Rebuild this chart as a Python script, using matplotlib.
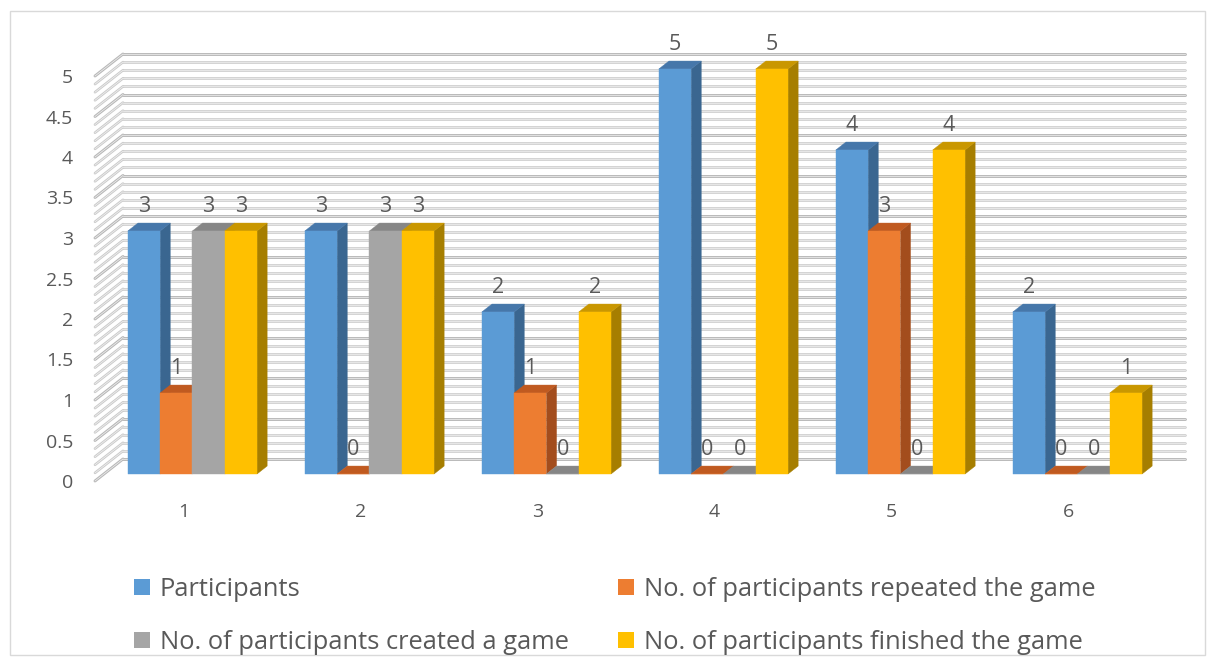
import matplotlib
matplotlib.use("Agg")
import matplotlib.pyplot as plt
from matplotlib.patches import Polygon, Patch, Rectangle
import numpy as np

# ---- data -------------------------------------------------------------
categories = ["1", "2", "3", "4", "5", "6"]
series_names = [
    "Participants",
    "No. of participants repeated the game",
    "No. of participants created a game",
    "No. of participants finished the game",
]
participants = [3, 3, 2, 5, 4, 2]
repeated = [1, 0, 1, 0, 3, 0]
created = [3, 3, 0, 0, 0, 0]
finished = [3, 3, 2, 5, 4, 1]
y_ticks = [0, 0.5, 1, 1.5, 2, 2.5, 3, 3.5, 4, 4.5, 5]
y_tick_labels = ["0", "0.5", "1", "1.5", "2", "2.5", "3", "3.5", "4", "4.5", "5"]

series_values = [participants, repeated, created, finished]

# face colours: (front, top, side)
palette = [
    ("#5B9BD5", "#4677AA", "#3A6690"),
    ("#ED7D31", "#C05A20", "#A34D1D"),
    ("#A5A5A5", "#868686", "#777777"),
    ("#FFC000", "#C99700", "#A67E00"),
]

TEXT = "#595959"
plt.rcParams["font.family"] = ["Open Sans", "DejaVu Sans"]

W, H, DPI = 1215, 666, 100
fig = plt.figure(figsize=(W / DPI, H / DPI), dpi=DPI)
fig.patch.set_facecolor("white")

# front plane of the plot box in pixels
left_px, right_px, top_px, bot_px = 95, 1157, 76, 481
ax = fig.add_axes([left_px / W, (H - bot_px) / H,
                   (right_px - left_px) / W, (bot_px - top_px) / H])
ax.set_facecolor("none")
n_cat = len(categories)
ax.set_xlim(-0.5, n_cat - 0.5)
ax.set_ylim(0, 5)
for s in ax.spines.values():
    s.set_visible(False)

px_per_x = (right_px - left_px) / n_cat
px_per_y = (bot_px - top_px) / 5.0

# oblique depth: full depth of the box moves right and up on screen
DX = 28 / px_per_x
DY = 22 / px_per_y


def proj(x, v, d):
    return (x + d * DX, v + d * DY)


# ---- walls with gridlines ---------------------------------------------
x0, x1 = -0.5, n_cat - 0.5
for k in range(51):
    v = k * 0.1
    major = (k % 5 == 0)
    col = "#B8B8B8" if major else "#CBCBCB"
    lw = 2.1 if major else 1.9
    for (a, b) in [(proj(x0, v, 1), proj(x1, v, 1)),
                   (proj(x0, v, 0), proj(x0, v, 1))]:
        ax.plot([a[0], b[0]], [a[1], b[1]], color=col, lw=lw,
                solid_capstyle="round", clip_on=False, zorder=1)
        ax.plot([a[0], b[0]], [a[1], b[1]], color="#F2F2F2", lw=0.5,
                clip_on=False, zorder=1.1)

# ---- 3D columns -------------------------------------------------------
n_ser = len(series_values)
bar_w = 32.3 / px_per_x
d_front, d_back = 0.32, 0.68

z = 3
for ci in range(n_cat):
    for si in range(n_ser):
        v = series_values[si][ci]
        xl = ci - n_ser * bar_w / 2 + si * bar_w
        xr = xl + bar_w
        front_c, top_c, side_c = palette[si]
        side = [proj(xr, 0, d_front), proj(xr, 0, d_back),
                proj(xr, v, d_back), proj(xr, v, d_front)]
        top = [proj(xl, v, d_front), proj(xr, v, d_front),
               proj(xr, v, d_back), proj(xl, v, d_back)]
        front = [proj(xl, 0, d_front), proj(xr, 0, d_front),
                 proj(xr, v, d_front), proj(xl, v, d_front)]
        for pts, c in [(side, side_c), (top, top_c), (front, front_c)]:
            ax.add_patch(Polygon(pts, closed=True, facecolor=c,
                                 edgecolor=c, lw=0.3, clip_on=False,
                                 zorder=z))
            z += 0.01
        cx, cy = proj((xl + xr) / 2, v, d_front)
        ax.annotate(str(v), (cx, cy), xytext=(0, 17.5),
                    textcoords="offset points", ha="center", va="center",
                    fontsize=15.5, color=TEXT, zorder=50,
                    annotation_clip=False)

# ---- axes labels ------------------------------------------------------
ax.set_yticks(y_ticks, y_tick_labels)
ax.set_xticks(range(n_cat), categories)
ax.tick_params(axis="y", length=0, pad=15.8, labelsize=14, labelcolor=TEXT)
ax.tick_params(axis="x", length=0, pad=15.5, labelsize=14, labelcolor=TEXT)

# ---- legend -----------------------------------------------------------
handles = [Patch(facecolor=palette[i][0], edgecolor="none") for i in range(n_ser)]
order = [0, 2, 1, 3]
fig.legend([handles[i] for i in order], [series_names[i] for i in order],
           ncol=2, loc="upper left", bbox_to_anchor=(134 / W, 1 - 577 / H),
           frameon=False, fontsize=18.4, labelcolor=TEXT,
           handlelength=0.62, handleheight=0.62, handletextpad=0.38,
           columnspacing=1.95, labelspacing=1.09, borderpad=0,
           borderaxespad=0)

# ---- chart frame ------------------------------------------------------
fig.add_artist(Rectangle((10 / W, (H - 655) / H), 1195 / W, 644 / H,
                         transform=fig.transFigure, facecolor="none",
                         edgecolor="#D9D9D9", lw=1.0))

fig.savefig("out.png", dpi=DPI)
